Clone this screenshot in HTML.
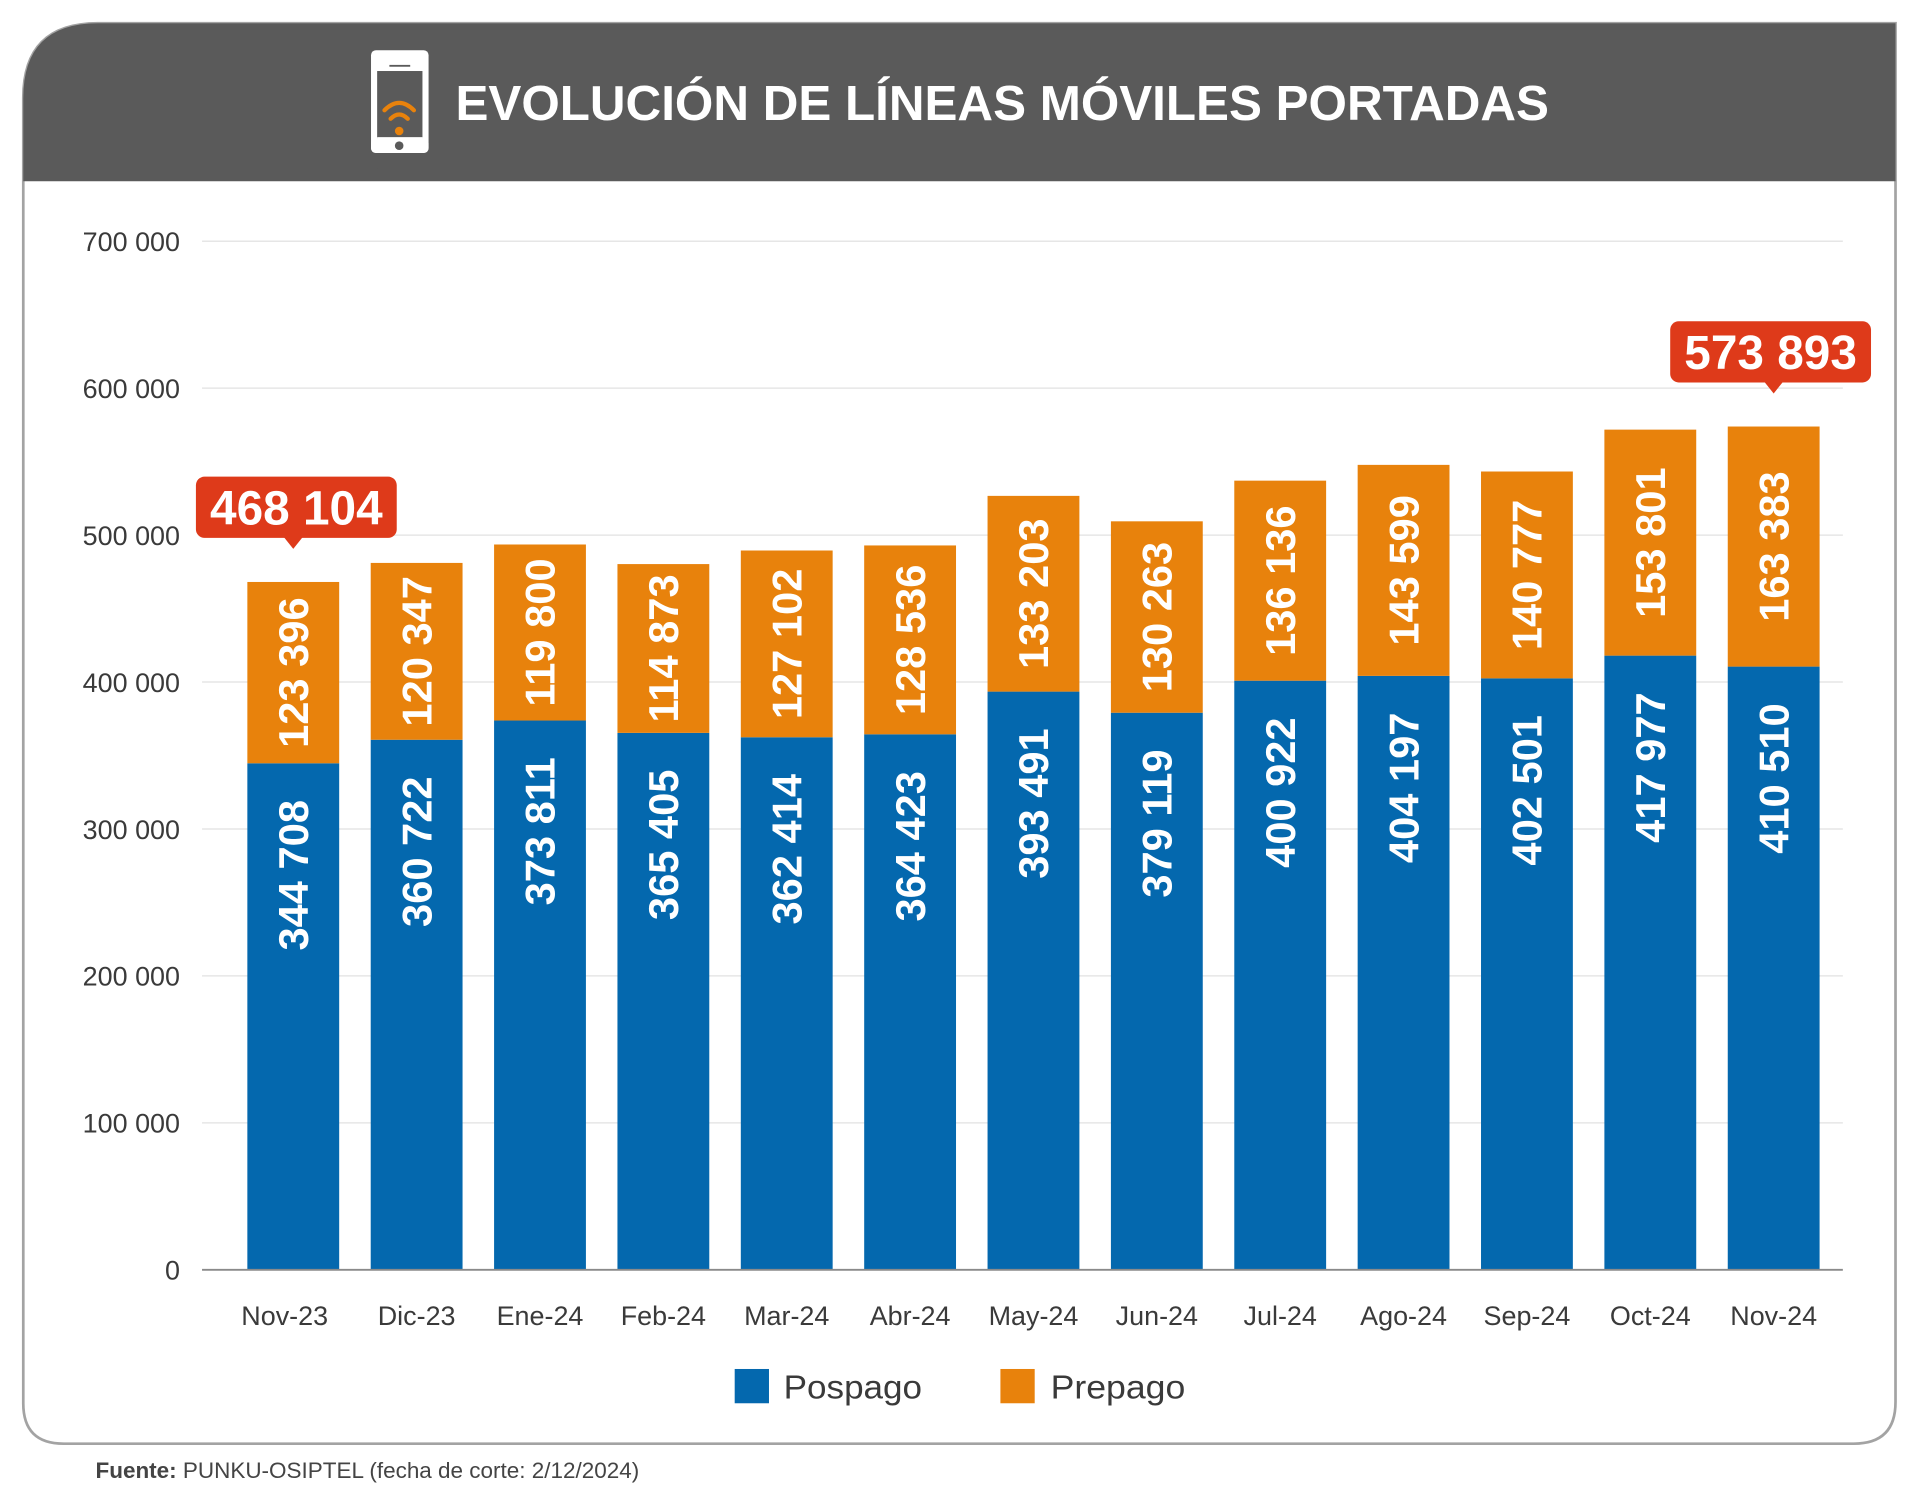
<!DOCTYPE html>
<html><head><meta charset="utf-8"><style>
html,body{margin:0;padding:0;background:#fff;}
svg{display:block;}
text{font-family:"Liberation Sans",sans-serif;}
</style></head><body>
<svg id="chart" width="1920" height="1500" viewBox="0 0 1568 1225" xmlns="http://www.w3.org/2000/svg">
<path d="M19,1143 L19,80 Q19,19 80,19 L1548,19 L1548,1145 Q1548,1179 1514,1179 L52,1179 Q19,1179 19,1146 Z" fill="#fff" stroke="#a3a3a3" stroke-width="2.2"/>
<path d="M19,148 L19,80 Q19,19 80,19 L1548,19 L1548,148 Z" fill="#5a5a5a"/>
<g>
<rect x="303" y="41" width="47" height="84" rx="4" fill="#fff"/>
<rect x="308" y="58" width="37" height="80" fill="#5a5a5a" height="79"/>
<rect x="303" y="138" width="0" height="0" fill="none"/>
<rect x="308" y="58" width="37" height="80" fill="none"/>
<rect x="303" y="113" width="47" height="12" rx="4" fill="#fff"/>
<rect x="308" y="112" width="37" height="2" fill="#fff"/>
<circle cx="326" cy="119" r="3.5" fill="#5a5a5a"/>
<rect x="318" y="53" width="17" height="1.5" fill="#5a5a5a"/>
<path d="M314,90 Q326,78 338,90" fill="none" stroke="#e8820c" stroke-width="3.5" stroke-linecap="round"/>
<path d="M319,97 Q326,90 333,97" fill="none" stroke="#e8820c" stroke-width="3.5" stroke-linecap="round"/>
<circle cx="326" cy="107" r="3.5" fill="#e8820c"/>
</g>
<text x="372" y="98" font-size="40" font-weight="bold" fill="#fff" textLength="893" lengthAdjust="spacingAndGlyphs">EVOLUCIÓN DE LÍNEAS MÓVILES PORTADAS</text>
<g id="grid"></g>
<g id="bars"></g>
<g id="labels"></g>
<line x1="165" y1="1037" x2="1505" y2="1037" stroke="#8a8a8a" stroke-width="1.5"/>
<g>
<rect x="600" y="1118" width="28" height="28" fill="#0468ae"/>
<text x="640" y="1142" font-size="27" fill="#3a3a3a" textLength="113" lengthAdjust="spacingAndGlyphs">Pospago</text>
<rect x="817" y="1118" width="28" height="28" fill="#e8820c"/>
<text x="858" y="1142" font-size="27" fill="#3a3a3a" textLength="110" lengthAdjust="spacingAndGlyphs">Prepago</text>
</g>
<text x="78" y="1207" font-size="18" fill="#444" textLength="444" lengthAdjust="spacingAndGlyphs"><tspan font-weight="bold">Fuente:</tspan> PUNKU-OSIPTEL (fecha de corte: 2/12/2024)</text>
</svg>
<script>
const categories=["Nov-23","Dic-23","Ene-24","Feb-24","Mar-24","Abr-24","May-24","Jun-24","Jul-24","Ago-24","Sep-24","Oct-24","Nov-24"];
const pospago=[344708,360722,373811,365405,362414,364423,393491,379119,400922,404197,402501,417977,410510];
const prepago=[123396,120347,119800,114873,127102,128536,133203,130263,136136,143599,140777,153801,163383];
const yTicks=[0,100000,200000,300000,400000,500000,600000,700000];
const yTickLabels=["0","100 000","200 000","300 000","400 000","500 000","600 000","700 000"];
const calloutIdx=[0,12];

const NS="http://www.w3.org/2000/svg";
const y0=1037,yPer=840/700000,x0=239.5,step=100.75,bw=75;
function yS(v){return y0-v*yPer;}
function xS(i){return x0+i*step;}
function fmt(v){return String(v).replace(/\B(?=(\d{3})+(?!\d))/g," ");}
function mk(tag,attrs,parent){const e=document.createElementNS(NS,tag);for(const k in attrs)e.setAttribute(k,attrs[k]);parent.appendChild(e);return e;}
const grid=document.getElementById('grid'),bars=document.getElementById('bars'),labels=document.getElementById('labels');
yTicks.forEach((t,i)=>{
  if(t>0){const l=mk('line',{x1:165,x2:1505,y1:yS(t),y2:yS(t),stroke:'#e6e6e6','stroke-width':1.2},grid);
  
  }
  const tx=mk('text',{x:147,y:yS(t)+8,'text-anchor':'end','font-size':22,fill:'#3a3a3a'},grid);
  tx.textContent=yTickLabels[i];
  
  
});
categories.forEach((c,i)=>{
  const cx=xS(i),p=pospago[i],q=prepago[i],tot=p+q;
  const b1=mk('rect',{x:cx-bw/2,y:yS(p),width:bw,height:y0-yS(p),fill:'#0468ae'},bars);
  
  
  const b2=mk('rect',{x:cx-bw/2,y:yS(tot),width:bw,height:yS(p)-yS(tot),fill:'#e8820c'},bars);
  
  
  const t1=mk('text',{x:0,y:0,'text-anchor':'end','font-size':34,'font-weight':'bold',fill:'#fff',transform:`translate(${cx+12},${yS(p)+30}) rotate(-90)`},labels);
  t1.textContent=fmt(p);
  
  
  const t2=mk('text',{x:0,y:0,'text-anchor':'middle','font-size':34,'font-weight':'bold',fill:'#fff',transform:`translate(${cx+12},${(yS(p)+yS(tot))/2}) rotate(-90)`},labels);
  t2.textContent=fmt(q);
  
  
  const xl=mk('text',{x:i===0?cx-7:cx,y:1082,'text-anchor':'middle','font-size':22,fill:'#3a3a3a'},labels);
  xl.textContent=c;
  
  
});
calloutIdx.forEach(i=>{
  const cx=xS(i),tot=pospago[i]+prepago[i],tipY=yS(tot)-27;
  const g=mk('g',{},labels);
  
  
  const w=164,h=50,bx=i===0?160:1364,by=tipY-h-9;
  mk('rect',{x:bx,y:by,width:w,height:h,rx:7,fill:'#de3a1a'},g);
  mk('path',{d:`M${cx-8},${by+h-1} L${cx},${tipY} L${cx+8},${by+h-1} Z`,fill:'#de3a1a'},g);
  const t=mk('text',{x:bx+w/2,y:by+39,'text-anchor':'middle','font-size':39,'font-weight':'bold',fill:'#fff'},g);
  t.textContent=fmt(tot);
});
</script>
</body></html>
